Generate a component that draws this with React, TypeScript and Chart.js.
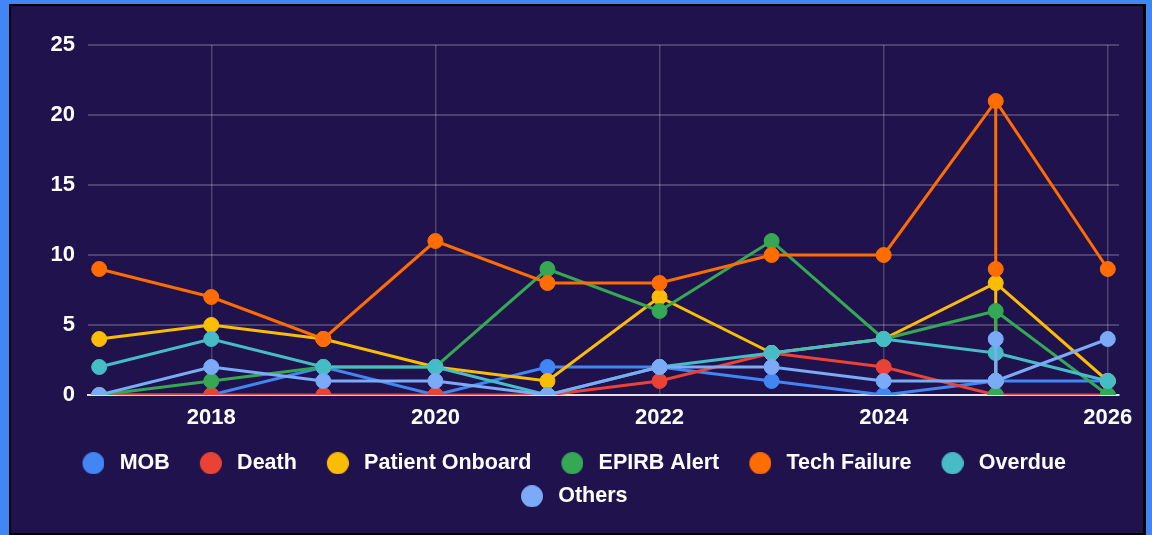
import React, { useEffect, useRef } from 'react';
import { Chart, registerables } from 'chart.js';

Chart.register(...registerables);

const years = [2017, 2018, 2019, 2020, 2021, 2022, 2023, 2024, 2025, 2026];
const seriesNames = ['MOB', 'Death', 'Patient Onboard', 'EPIRB Alert', 'Tech Failure', 'Overdue', 'Others'];
const mob = [0, 0, 2, 0, 2, 2, 1, 0, 1, 1];
const death = [0, 0, 0, 0, 0, 1, 3, 2, 0, 0];
const patientOnboard = [4, 5, 4, 2, 1, 7, 3, 4, 8, 1];
const epirbAlert = [0, 1, 2, 2, 9, 6, 11, 4, 6, 0];
const techFailure = [9, 7, 4, 11, 8, 8, 10, 10, 21, 9];
const overdue = [2, 4, 2, 2, 0, 2, 3, 4, 3, 1];
const others = [0, 2, 1, 1, 0, 2, 2, 1, 1, 4];
// second 2025 entry for each series (MOB, Death, Patient Onboard, EPIRB Alert, Tech Failure, Overdue, Others)
const second2025 = [1, 0, 1, 0, 9, 1, 4];
const seriesColors = ['#4285F4', '#EA4335', '#FBBC04', '#34A853', '#FF6D01', '#46BDC6', '#7BAAF7'];
const xTickValues = [2018, 2020, 2022, 2024, 2026];

const GRID = 'rgba(255,255,255,0.2)';
const FONT = '"Liberation Sans", Arial, sans-serif';

function makeDot(color: string) {
  const c = document.createElement('canvas');
  c.width = 36;
  c.height = 22;
  const g = c.getContext('2d')!;
  g.fillStyle = color;
  g.beginPath();
  g.arc(25, 11, 11, 0, Math.PI * 2);
  g.fill();
  return c;
}

export default function App() {
  const ref = useRef<HTMLCanvasElement>(null);

  useEffect(() => {
    const canvas = ref.current;
    if (!canvas) return;
    const all = [mob, death, patientOnboard, epirbAlert, techFailure, overdue, others];
    const dots = seriesColors.map(makeDot);

    const datasets = all.map((vals, s) => {
      const pts: { x: number; y: number }[] = [];
      let dup = -1;
      years.forEach((yr, i) => {
        pts.push({ x: yr, y: vals[i] });
        if (yr === 2025) {
          pts.push({ x: yr, y: second2025[s] });
          pts.push({ x: yr, y: vals[i] });
          dup = pts.length - 1;
        }
      });
      return {
        label: seriesNames[s],
        data: pts,
        borderColor: seriesColors[s],
        backgroundColor: seriesColors[s],
        pointBackgroundColor: seriesColors[s],
        pointBorderColor: seriesColors[s],
        borderWidth: 3,
        pointBorderWidth: 1,
        pointRadius: (ctx: any) => (ctx.dataIndex === dup ? 0 : 7.5),
        tension: 0,
        order: all.length - 1 - s,
      };
    });

    Chart.defaults.font.family = FONT;
    Chart.defaults.font.size = 22;
    Chart.defaults.font.weight = 'bold';
    Chart.defaults.color = '#ffffff';

    const chart = new Chart(canvas, {
      type: 'line',
      data: { datasets: datasets as any },
      options: {
        responsive: false,
        animation: false,
        layout: { padding: { top: 39, left: 0, right: 24, bottom: 16 } },
        scales: {
          x: {
            type: 'linear',
            min: 2016.9,
            max: 2026.1,
            afterBuildTicks: (axis: any) => {
              axis.ticks = xTickValues.map((v) => ({ value: v }));
            },
            afterFit: (axis: any) => {
              axis.height = 46;
            },
            ticks: {
              padding: 10,
              color: '#ffffff',
              maxRotation: 0,
              autoSkip: false,
              font: { family: FONT, size: 22, weight: 'bold' },
              callback: (v: any) => String(v),
            },
            grid: { color: GRID, drawTicks: false, lineWidth: 1.5 },
            border: { color: 'rgba(255,255,255,0.85)', width: 2 },
          },
          y: {
            min: 0,
            max: 25,
            afterFit: (axis: any) => {
              axis.width = 77;
            },
            ticks: {
              stepSize: 5,
              padding: 13,
              color: '#ffffff',
              font: { family: FONT, size: 22, weight: 'bold' },
            },
            grid: { color: GRID, drawTicks: false, lineWidth: 2 },
            border: { display: false },
          },
        },
        plugins: {
          tooltip: { enabled: false },
          legend: {
            position: 'bottom',
            labels: {
              usePointStyle: true,
              pointStyleWidth: 45,
              padding: 11.5,
              color: '#ffffff',
              font: { family: FONT, size: 21.5, weight: 'bold' },
              generateLabels: (ch: any) => {
                const items = (Chart.defaults.plugins.legend.labels as any).generateLabels(ch);
                items.sort((a: any, b: any) => a.datasetIndex - b.datasetIndex);
                items.forEach((it: any) => {
                  it.pointStyle = dots[it.datasetIndex];
                  it.lineWidth = 0;
                });
                return items;
              },
            },
          },
        },
      } as any,
    });
    return () => chart.destroy();
  }, []);

  return (
    <div style={{ position: 'fixed', left: 0, top: 0, width: 1152, height: 535, background: '#4285f4' }}>
      <div
        style={{
          position: 'absolute',
          left: 9,
          top: 4,
          width: 1137,
          height: 531,
          boxSizing: 'border-box',
          borderStyle: 'solid',
          borderColor: '#000',
          borderWidth: '2px 3px 2px 2px',
          background: '#20134d',
        }}
      >
        <canvas ref={ref} width={1132} height={527} style={{ display: 'block' }} />
      </div>
    </div>
  );
}
